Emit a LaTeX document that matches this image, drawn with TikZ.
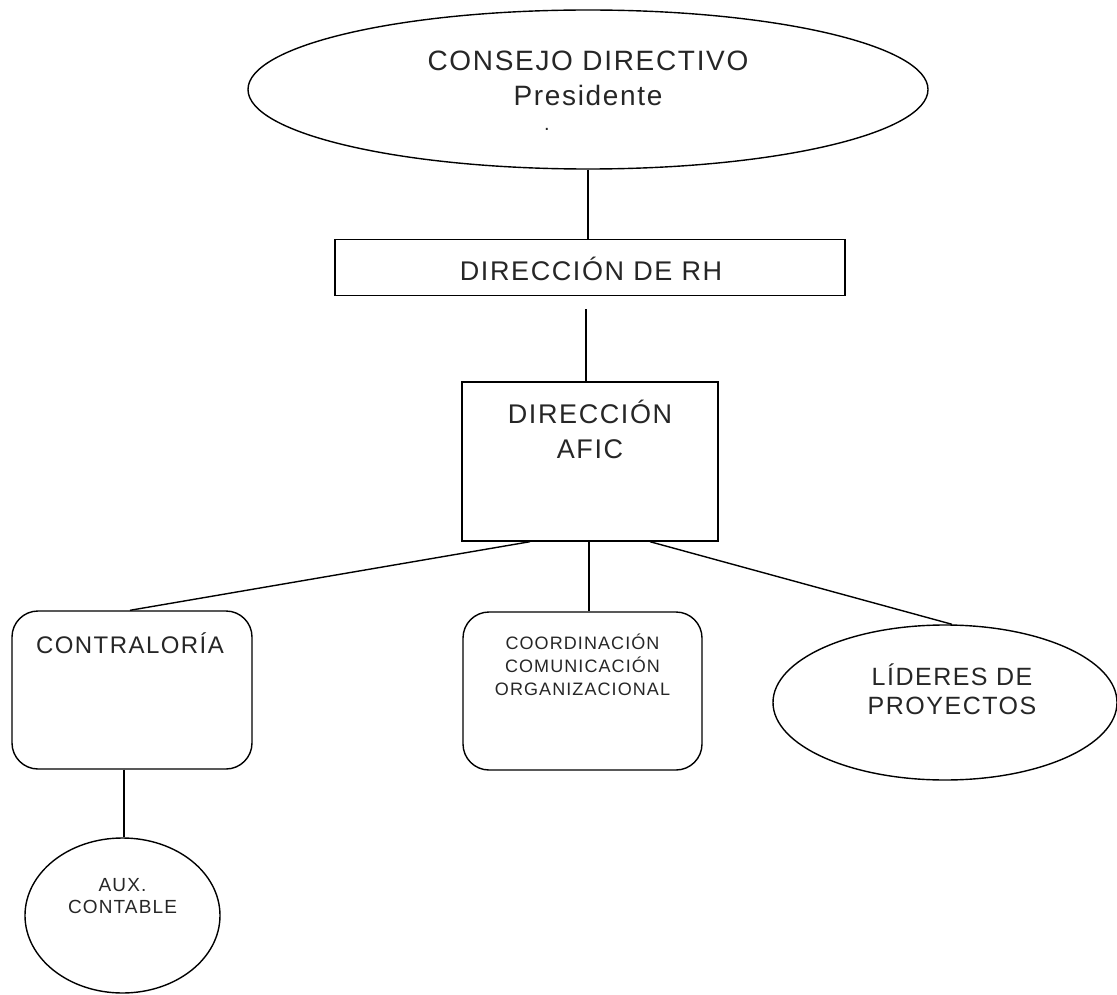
\documentclass[tikz,border=0pt]{standalone}
\usepackage{fontspec}
\setmainfont[LetterSpace=6]{Liberation Sans}
\usetikzlibrary{shapes.geometric}
\begin{document}
\begin{tikzpicture}[x=1pt,y=-1pt,
  shp/.style={draw=black,line width=1.4pt,inner sep=0pt,fill=none},
  ell/.style={shp,ellipse},
  rbox/.style={shp,rectangle},
  rrbox/.style={shp,rectangle,rounded corners=26pt},
  conn/.style={draw=black,line width=1.4pt},
  txt/.style={inner sep=0pt,anchor=base,text=black!85}
]
\useasboundingbox (0,0) rectangle (1117,995);
% shapes
\node[ell,minimum width=680pt,minimum height=159pt] (consejo) at (588,89.5) {};
\node[rbox,minimum width=510pt,minimum height=56pt] (rh) at (590,267.5) {};
\node[rbox,minimum width=256pt,minimum height=159pt] (afic) at (590,461.5) {};
\node[rrbox,minimum width=240pt,minimum height=158pt] (contra) at (132,690) {};
\node[rrbox,minimum width=239pt,minimum height=158pt] (coord) at (582.5,691) {};
\node[ell,minimum width=344pt,minimum height=155pt] (lider) at (945,702.5) {};
\node[ell,minimum width=195pt,minimum height=155pt] (aux) at (122.5,915.5) {};
% texts
\node[txt,font=\fontsize{28}{30}\selectfont] (t1) at (588,71) {CONSEJO DIRECTIVO};
\node[txt,font=\fontsize{28}{30}\selectfont] (t2) at (588,106) {Presidente};
\node[txt,font=\fontsize{20}{22}\selectfont] (t3) at (547,131) {.};
\node[txt,font=\fontsize{27}{29}\selectfont] (t4) at (591,280) {DIRECCIÓN DE RH};
\node[txt,font=\fontsize{27}{29}\selectfont] (t5) at (590,423) {DIRECCIÓN};
\node[txt,font=\fontsize{27}{29}\selectfont] (t6) at (590,458) {AFIC};
\node[txt,font=\fontsize{24}{26}\selectfont] (t7) at (130,653) {CONTRALORÍA};
\node[txt,font=\fontsize{18}{20}\selectfont] (t8) at (582.5,649) {COORDINACIÓN};
\node[txt,font=\fontsize{18}{20}\selectfont] (t9) at (582.5,672) {COMUNICACIÓN};
\node[txt,font=\fontsize{18}{20}\selectfont] (t10) at (582.5,695) {ORGANIZACIONAL};
\node[txt,font=\fontsize{25}{27}\selectfont] (t11) at (952,685) {LÍDERES DE};
\node[txt,font=\fontsize{25}{27}\selectfont] (t12) at (952,714) {PROYECTOS};
\node[txt,font=\fontsize{19}{21}\selectfont] (t13) at (122.5,891) {AUX.};
\node[txt,font=\fontsize{19}{21}\selectfont] (t14) at (122.5,913) {CONTABLE};
% connectors
\draw[conn] (consejo.south) -- (consejo.south |- rh.north);
\draw[conn] ([xshift=-4pt,yshift=-13pt]rh.south) -- ([xshift=-4pt]rh.south |- afic.north);
\draw[conn] ([xshift=-60pt]afic.south) -- ([xshift=-2pt]contra.north);
\draw[conn] ([xshift=-1pt]afic.south) -- ([xshift=-1pt]afic.south |- coord.north);
\draw[conn] ([xshift=60pt]afic.south) -- ([xshift=7pt]lider.north);
\draw[conn] ([xshift=-8pt]contra.south) -- ([xshift=-8pt]contra.south |- aux.north);
\end{tikzpicture}
\end{document}
